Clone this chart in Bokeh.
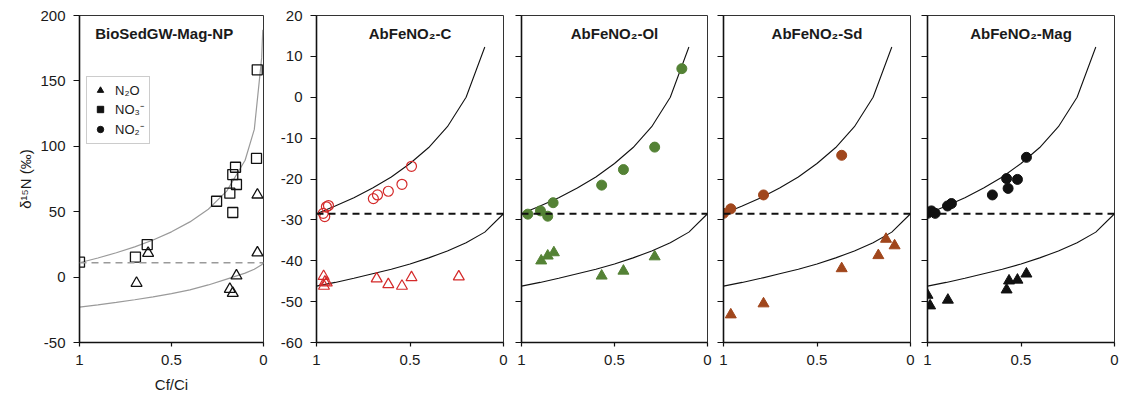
from bokeh.plotting import figure
from bokeh.layouts import row
from bokeh.models import Range1d, FixedTicker, Span, Label, Legend, LegendItem
from bokeh.embed import file_html
from bokeh.resources import INLINE

# ---------------- data ----------------
# Panel 1: BioSedGW-Mag-NP
np_no3_f = [1.0, 0.696, 0.632, 0.255, 0.183, 0.167, 0.152, 0.147, 0.167, 0.038, 0.034]
np_no3_d = [11.4, 15.2, 24.9, 58.0, 64.2, 78.4, 84.0, 70.8, 49.4, 90.7, 158.5]
np_n2o_f = [0.690, 0.627, 0.183, 0.167, 0.147, 0.033, 0.033]
np_n2o_d = [-4.6, 18.3, -9.2, -12.3, 1.0, 62.9, 18.6]
np_start = 11.0
np_up_f = [1.0, 0.9, 0.8, 0.7, 0.6, 0.5, 0.4, 0.3, 0.2, 0.1, 0.05, 0.01, 0.004]
np_up_d = [11.0, 14.6, 18.6, 23.1, 28.4, 34.6, 42.2, 51.9, 65.7, 89.3, 112.9, 167.6, 189.0]
np_lo_f = [1.0, 0.9, 0.8, 0.7, 0.6, 0.5, 0.4, 0.3, 0.2, 0.1, 0.05, 0.01, 0.0]
np_lo_d = [-23.0, -21.2, -19.3, -17.3, -15.1, -12.6, -9.8, -6.0, -1.5, 3.0, 6.0, 9.4, 11.0]

# Panels 2-5: shared Rayleigh curves
ab_start = -28.5
ab_up_f = [1.0, 0.9, 0.8, 0.7, 0.6, 0.5, 0.4, 0.3, 0.2, 0.1]
ab_up_d = [-28.5, -26.6, -24.6, -22.2, -19.5, -16.2, -12.3, -7.2, 0.0, 12.3]
ab_lo_f = [1.0, 0.9, 0.8, 0.7, 0.6, 0.5, 0.4, 0.3, 0.2, 0.1, 0.0]
ab_lo_d = [-46.2, -45.3, -44.3, -43.2, -42.1, -40.8, -39.3, -37.6, -35.6, -33.0, -28.5]

# AbFeNO2-C (red, open)
c_no2_f = [0.964, 0.956, 0.947, 0.936, 0.696, 0.674, 0.616, 0.543, 0.492]
c_no2_d = [-28.4, -29.2, -26.8, -26.5, -24.8, -23.9, -23.0, -21.3, -16.9]
c_n2o_f = [0.962, 0.955, 0.945, 0.960, 0.678, 0.616, 0.543, 0.492, 0.239]
c_n2o_d = [-43.8, -45.2, -45.4, -46.2, -44.4, -45.8, -46.2, -44.1, -43.9]

# AbFeNO2-Ol (green, filled)
ol_no2_f = [0.966, 0.898, 0.859, 0.830, 0.569, 0.452, 0.284, 0.138]
ol_no2_d = [-28.6, -27.8, -29.1, -25.8, -21.5, -17.7, -12.2, 7.0]
ol_n2o_f = [0.894, 0.859, 0.826, 0.569, 0.452, 0.284]
ol_n2o_d = [-40.0, -38.8, -38.0, -43.7, -42.5, -39.0]

# AbFeNO2-Sd (brown, filled)
sd_no2_f = [1.0, 0.961, 0.786, 0.368]
sd_no2_d = [-28.4, -27.3, -23.9, -14.2]
sd_n2o_f = [0.961, 0.786, 0.368, 0.172, 0.131, 0.085]
sd_n2o_d = [-53.2, -50.5, -41.9, -38.7, -34.7, -36.3]

# AbFeNO2-Mag (black, filled)
mag_no2_f = [1.0, 0.979, 0.959, 0.893, 0.872, 0.653, 0.577, 0.569, 0.519, 0.471]
mag_no2_d = [-28.4, -27.8, -28.4, -26.6, -26.0, -23.9, -19.9, -22.3, -20.1, -14.7]
mag_n2o_f = [1.0, 0.986, 0.891, 0.577, 0.564, 0.519, 0.471]
mag_n2o_d = [-48.4, -51.0, -49.6, -47.1, -44.9, -44.7, -43.2]

x_ticks = [0, 0.5, 1]
x_tick_labels = {0: "0", 0.5: "0.5", 1: "1"}
np_y_ticks = [-50, 0, 50, 100, 150, 200]
ab_y_ticks = [-60, -50, -40, -30, -20, -10, 0, 10, 20]

titles = ["BioSedGW-Mag-NP", "AbFeNO₂-C", "AbFeNO₂-Ol", "AbFeNO₂-Sd", "AbFeNO₂-Mag"]
legend_labels = ["N₂O", "NO₃⁻", "NO₂⁻"]

FONT = "Liberation Sans"
TXT = "#1a1a1a"
NAN = float("nan")


def make_panel(frame_w, left, right, ylo, yhi, yticks, show_ylabels):
    p = figure(frame_width=frame_w, frame_height=327,
               min_border_left=left, min_border_right=right,
               min_border_top=15, min_border_bottom=40,
               x_range=Range1d(1, 0), y_range=Range1d(ylo, yhi),
               output_backend="svg", toolbar_location=None,
               background_fill_color="white", border_fill_color="white",
               outline_line_color="#333333", outline_line_width=1)
    p.grid.visible = False
    for ax in (p.xaxis[0], p.yaxis[0]):
        ax.axis_line_color = "#111111"
        ax.axis_line_width = 1.6
        ax.major_tick_line_color = "#111111"
        ax.major_tick_line_width = 1.2
        ax.major_tick_in = 0
        ax.minor_tick_in = 0
        ax.minor_tick_out = 0
        ax.major_label_text_font = FONT
        ax.major_label_text_font_size = "15px"
        ax.major_label_text_color = TXT
    p.xaxis.ticker = FixedTicker(ticks=x_ticks)
    p.xaxis.major_label_overrides = x_tick_labels
    p.xaxis.major_tick_out = 4
    p.xaxis.major_label_standoff = 8
    p.yaxis.ticker = FixedTicker(ticks=yticks)
    p.yaxis.major_tick_out = 6
    if show_ylabels:
        p.yaxis.major_label_standoff = 8
        p.yaxis.major_label_overrides = {t: str(t) for t in yticks}
    else:
        p.yaxis.major_label_overrides = {t: "" for t in yticks}
        p.yaxis.major_label_standoff = 0
    return p


def add_title(p, text, x, y):
    p.add_layout(Label(x=x, y=y, text=text, text_align="center", text_baseline="middle",
                       text_font=FONT, text_font_size="15px", text_font_style="bold",
                       text_color=TXT))


# ---------------- Panel 1 ----------------
p1 = make_panel(184, 79, 10, -50, 200, np_y_ticks, True)
p1.xaxis.axis_label = "Cf/Ci"
p1.yaxis.axis_label = "δ¹⁵N (‰)"
for ax in (p1.xaxis[0], p1.yaxis[0]):
    ax.axis_label_text_font = FONT
    ax.axis_label_text_font_size = "15px"
    ax.axis_label_text_font_style = "normal"
    ax.axis_label_text_color = TXT
p1.xaxis.axis_label_standoff = 8
p1.yaxis.axis_label_standoff = 3
p1.line(np_up_f, np_up_d, line_color="#9a9a9a", line_width=1.2)
p1.line(np_lo_f, np_lo_d, line_color="#9a9a9a", line_width=1.2)
p1.add_layout(Span(location=np_start, dimension="width", line_color="#9a9a9a",
                   line_width=1.6, line_dash="7 5"))
p1.scatter(np_no3_f, np_no3_d, marker="square", size=10, fill_color=None,
           line_color="#111111", line_width=1.3)
p1.scatter(np_n2o_f, np_n2o_d, marker="triangle", size=11, fill_color=None,
           line_color="#111111", line_width=1.3)
add_title(p1, titles[0], 0.54, 186)

# legend proxies (no visible point in the plot area)
lr_tri = p1.scatter([0.5], [NAN], marker="triangle", size=12, color="#111111")
lr_sq = p1.scatter([0.5], [NAN], marker="square", size=11, color="#111111")
lr_ci = p1.scatter([0.5], [NAN], marker="circle", size=11, color="#111111")
leg = Legend(items=[LegendItem(label=legend_labels[0], renderers=[lr_tri]),
                    LegendItem(label=legend_labels[1], renderers=[lr_sq]),
                    LegendItem(label=legend_labels[2], renderers=[lr_ci])],
             location=(7, 198), margin=0, padding=5, spacing=2,
             glyph_width=16, glyph_height=16, label_height=16, label_standoff=7,
             label_text_font=FONT, label_text_font_size="13px", label_text_color=TXT,
             border_line_color="#9a9a9a", border_line_width=1,
             background_fill_color="white", background_fill_alpha=1)
p1.add_layout(leg)


# ---------------- Panels 2-5 ----------------
def ab_panel(frame_w, left, right, show_ylabels, title, color, filled,
             no2_f, no2_d, n2o_f, n2o_d):
    p = make_panel(frame_w, left, right, -60, 20, ab_y_ticks, show_ylabels)
    p.line(ab_up_f, ab_up_d, line_color="#111111", line_width=1.1)
    p.line(ab_lo_f, ab_lo_d, line_color="#111111", line_width=1.1)
    p.add_layout(Span(location=ab_start, dimension="width", line_color="#111111",
                      line_width=1.8, line_dash="7 5"))
    if filled:
        p.scatter(no2_f, no2_d, marker="circle", size=10, fill_color=color, line_color=color)
        p.scatter(n2o_f, n2o_d, marker="triangle", size=11, fill_color=color, line_color=color)
    else:
        p.scatter(no2_f, no2_d, marker="circle", size=10, fill_color=None,
                  line_color=color, line_width=1.2)
        p.scatter(n2o_f, n2o_d, marker="triangle", size=11, fill_color=None,
                  line_color=color, line_width=1.2)
    add_title(p, title, 0.5, 15.6)
    return p


p2 = ab_panel(187, 43, 5, True, titles[1], "#d42a2a", False, c_no2_f, c_no2_d, c_n2o_f, c_n2o_d)
p3 = ab_panel(186, 13, 5, False, titles[2], "#548235", True, ol_no2_f, ol_no2_d, ol_n2o_f, ol_n2o_d)
p4 = ab_panel(187, 11, 5, False, titles[3], "#a0461c", True, sd_no2_f, sd_no2_d, sd_n2o_f, sd_n2o_d)
p5 = ab_panel(187, 12, 6, False, titles[4], "#111111", True, mag_no2_f, mag_no2_d, mag_n2o_f, mag_n2o_d)

layout = row(p1, p2, p3, p4, p5)
open("out.html", "w").write(file_html(layout, INLINE))
